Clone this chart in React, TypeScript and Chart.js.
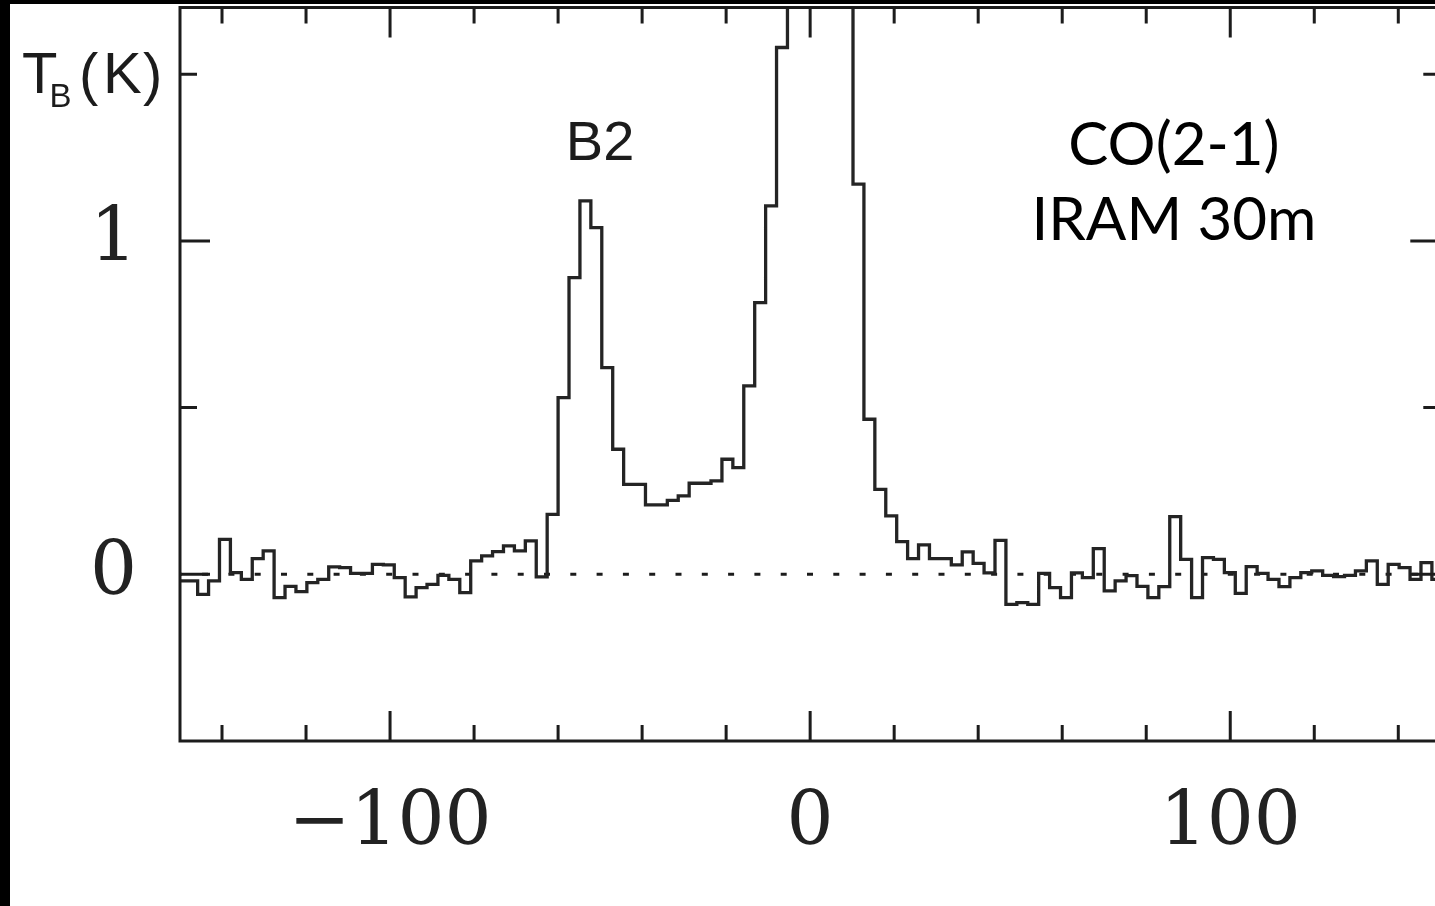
import { useEffect, useRef } from "react";
import { Chart, registerables } from "chart.js";

Chart.register(...registerables);

// Spectral channels: left edge of the first channel and channel width (km/s)
const CHANNEL_START = -151.0;
const CHANNEL_WIDTH = 2.6;

// Brightness temperature of each channel (K)
const TB_K = [
  -0.02, -0.02, -0.06, -0.02, 0.105, 0.005, -0.015, 0.047, 0.07, -0.07,
  -0.036, -0.052, -0.025, -0.015, 0.022, 0.02, 0.003, 0.003, 0.03, 0.028,
  -0.01, -0.068, -0.04, -0.03, -0.003, -0.015, -0.055, 0.04, 0.055, 0.068,
  0.085, 0.07, 0.1, -0.008, 0.18, 0.53, 0.89, 1.12, 1.04, 0.62,
  0.375, 0.27, 0.27, 0.208, 0.208, 0.222, 0.235, 0.273, 0.273, 0.28,
  0.345, 0.32, 0.565, 0.815, 1.105, 1.58,
  2.05, 2.45, 2.6, 2.5, 2.2, 1.9, 1.17, 0.465, 0.255, 0.175,
  0.098, 0.047, 0.088, 0.047, 0.047, 0.028, 0.067, 0.033, 0.004, 0.102,
  -0.09, -0.085, -0.09, 0.003, -0.04, -0.07, 0.004, -0.01, 0.077, -0.05,
  -0.02, -0.004, -0.036, -0.07, -0.037, 0.173, 0.045, -0.07, 0.05, 0.045,
  0.005, -0.057, 0.023, 0.003, -0.015, -0.037, -0.01, 0.005, 0.01, -0.003,
  -0.007, -0.003, 0.01, 0.04, -0.03, 0.03, 0.02, -0.015, 0.035, -0.015,
];

const X_RANGE = [-150, 150];
const Y_RANGE = [-0.5, 1.7];
const X_TICKS = [-140, -120, -100, -80, -60, -40, -20, 0, 20, 40, 60, 80, 100, 120, 140];
const X_TICK_LABELS = [-100, 0, 100];
const Y_TICKS = [0, 0.5, 1, 1.5];
const Y_TICK_LABELS = [0, 1];
const ZERO_LEVEL = 0;

const LINE_TITLE = ["CO(2-1)", "IRAM 30m"];
const FEATURE_NAME = "B2";
const Y_SYMBOL = "T";
const Y_SUBSCRIPT = "B";
const Y_UNIT = ["(", "K", ")"];

const CW = 1460;
const CH = 902;
const INK = "#1c1c1c";

const fmtTick = (v: number) => (v < 0 ? "\u2212" + Math.abs(v) : String(v));

// Channel left edges with their values, plus a closing edge for the last channel
const stepPoints = TB_K.map((t, i) => ({ x: CHANNEL_START + i * CHANNEL_WIDTH, y: t }));
stepPoints.push({ x: CHANNEL_START + TB_K.length * CHANNEL_WIDTH, y: TB_K[TB_K.length - 1] });

const framePlugin = {
  id: "spectrumFrame",
  afterDatasetsDraw(chart: any) {
    const { ctx, chartArea: a, scales } = chart;
    const xs = scales.x;
    const ys = scales.y;
    ctx.save();
    ctx.strokeStyle = INK;
    ctx.lineWidth = 3;
    ctx.strokeRect(a.left, a.top, a.right - a.left, a.bottom - a.top);
    ctx.beginPath();
    for (const v of X_TICKS) {
      const px = xs.getPixelForValue(v);
      const len = X_TICK_LABELS.includes(v) ? 30 : 16;
      ctx.moveTo(px, a.bottom);
      ctx.lineTo(px, a.bottom - len);
      ctx.moveTo(px, a.top);
      ctx.lineTo(px, a.top + len);
    }
    for (const v of Y_TICKS) {
      const py = ys.getPixelForValue(v);
      const len = Y_TICK_LABELS.includes(v) ? 30 : 17;
      ctx.moveTo(a.left, py);
      ctx.lineTo(a.left + len, py);
      ctx.moveTo(a.right, py);
      ctx.lineTo(a.right - len, py);
    }
    ctx.stroke();

    // Line identification
    ctx.fillStyle = "#000";
    ctx.textAlign = "center";
    ctx.textBaseline = "alphabetic";
    ctx.font = "60px Lato, 'Open Sans', sans-serif";
    ctx.fillText(LINE_TITLE[0], xs.getPixelForValue(86.6), ys.getPixelForValue(1.228));
    ctx.fillText(LINE_TITLE[1], xs.getPixelForValue(86.6), ys.getPixelForValue(1.003));

    // Velocity component name
    ctx.fillStyle = INK;
    ctx.font = "56px 'Liberation Sans', Arial, sans-serif";
    ctx.fillText(FEATURE_NAME, xs.getPixelForValue(-50), ys.getPixelForValue(1.243));

    // Y axis quantity T_B(K)
    ctx.textAlign = "left";
    ctx.font = "58px 'Liberation Sans', Arial, sans-serif";
    ctx.fillText(Y_SYMBOL, 12, 89);
    ctx.fillText(Y_UNIT[0], 69, 90);
    ctx.fillText(Y_UNIT[1], 93, 89);
    ctx.fillText(Y_UNIT[2], 133, 90);
    ctx.font = "33px 'Liberation Sans', Arial, sans-serif";
    ctx.fillText(Y_SUBSCRIPT, 39.5, 103);
    ctx.restore();
  },
};

const tickFont = { family: "'DejaVu Serif', serif", size: 74 };

export default function App() {
  const ref = useRef<HTMLCanvasElement>(null);

  useEffect(() => {
    const canvas = ref.current;
    if (!canvas) return;
    const chart = new Chart(canvas, {
      type: "line",
      data: {
        datasets: [
          {
            data: stepPoints,
            stepped: "before",
            borderColor: "#242424",
            borderWidth: 3.3,
            pointRadius: 0,
            fill: false,
          },
          {
            data: [
              { x: X_RANGE[0], y: ZERO_LEVEL },
              { x: X_RANGE[1], y: ZERO_LEVEL },
            ],
            borderColor: INK,
            borderWidth: 3,
            borderDash: [6, 20.3],
            borderDashOffset: 4.2,
            pointRadius: 0,
            fill: false,
          },
        ],
      },
      options: {
        responsive: false,
        animation: false,
        events: [],
        layout: { padding: { top: 3.5, right: CW - 1430.3, left: 0, bottom: 0 } },
        plugins: { legend: { display: false }, tooltip: { enabled: false } },
        scales: {
          x: {
            type: "linear",
            min: X_RANGE[0],
            max: X_RANGE[1],
            afterBuildTicks: (s: any) => {
              s.ticks = X_TICK_LABELS.map((v) => ({ value: v }));
            },
            afterFit: (s: any) => {
              s.height = CH - 737;
              s.paddingLeft = 0;
              s.paddingRight = 0;
              s.paddingTop = 0;
              s.paddingBottom = 0;
            },
            grid: { display: false, drawTicks: false },
            border: { display: false },
            ticks: {
              autoSkip: false,
              maxRotation: 0,
              padding: 39,
              color: "#222",
              font: tickFont,
              callback: (v: any) => fmtTick(Number(v)),
            },
          },
          y: {
            type: "linear",
            min: Y_RANGE[0],
            max: Y_RANGE[1],
            afterBuildTicks: (s: any) => {
              s.ticks = Y_TICK_LABELS.map((v) => ({ value: v }));
            },
            afterFit: (s: any) => {
              s.width = 170;
              s.paddingLeft = 0;
              s.paddingRight = 0;
              s.paddingTop = 0;
              s.paddingBottom = 0;
            },
            grid: { display: false, drawTicks: false },
            border: { display: false },
            ticks: {
              autoSkip: false,
              padding: 43,
              color: "#222",
              font: tickFont,
              callback: (v: any) => fmtTick(Number(v)),
            },
          },
        },
      },
      plugins: [framePlugin],
    } as any);
    return () => chart.destroy();
  }, []);

  return (
    <div
      style={{
        position: "fixed",
        left: 0,
        top: 0,
        width: 1435,
        height: 906,
        background: "#000",
        overflow: "hidden",
      }}
    >
      <div style={{ position: "absolute", left: 10, top: 4, width: CW, height: CH, background: "#fff" }}>
        <canvas ref={ref} width={CW} height={CH} style={{ display: "block", width: CW, height: CH }} />
      </div>
    </div>
  );
}
